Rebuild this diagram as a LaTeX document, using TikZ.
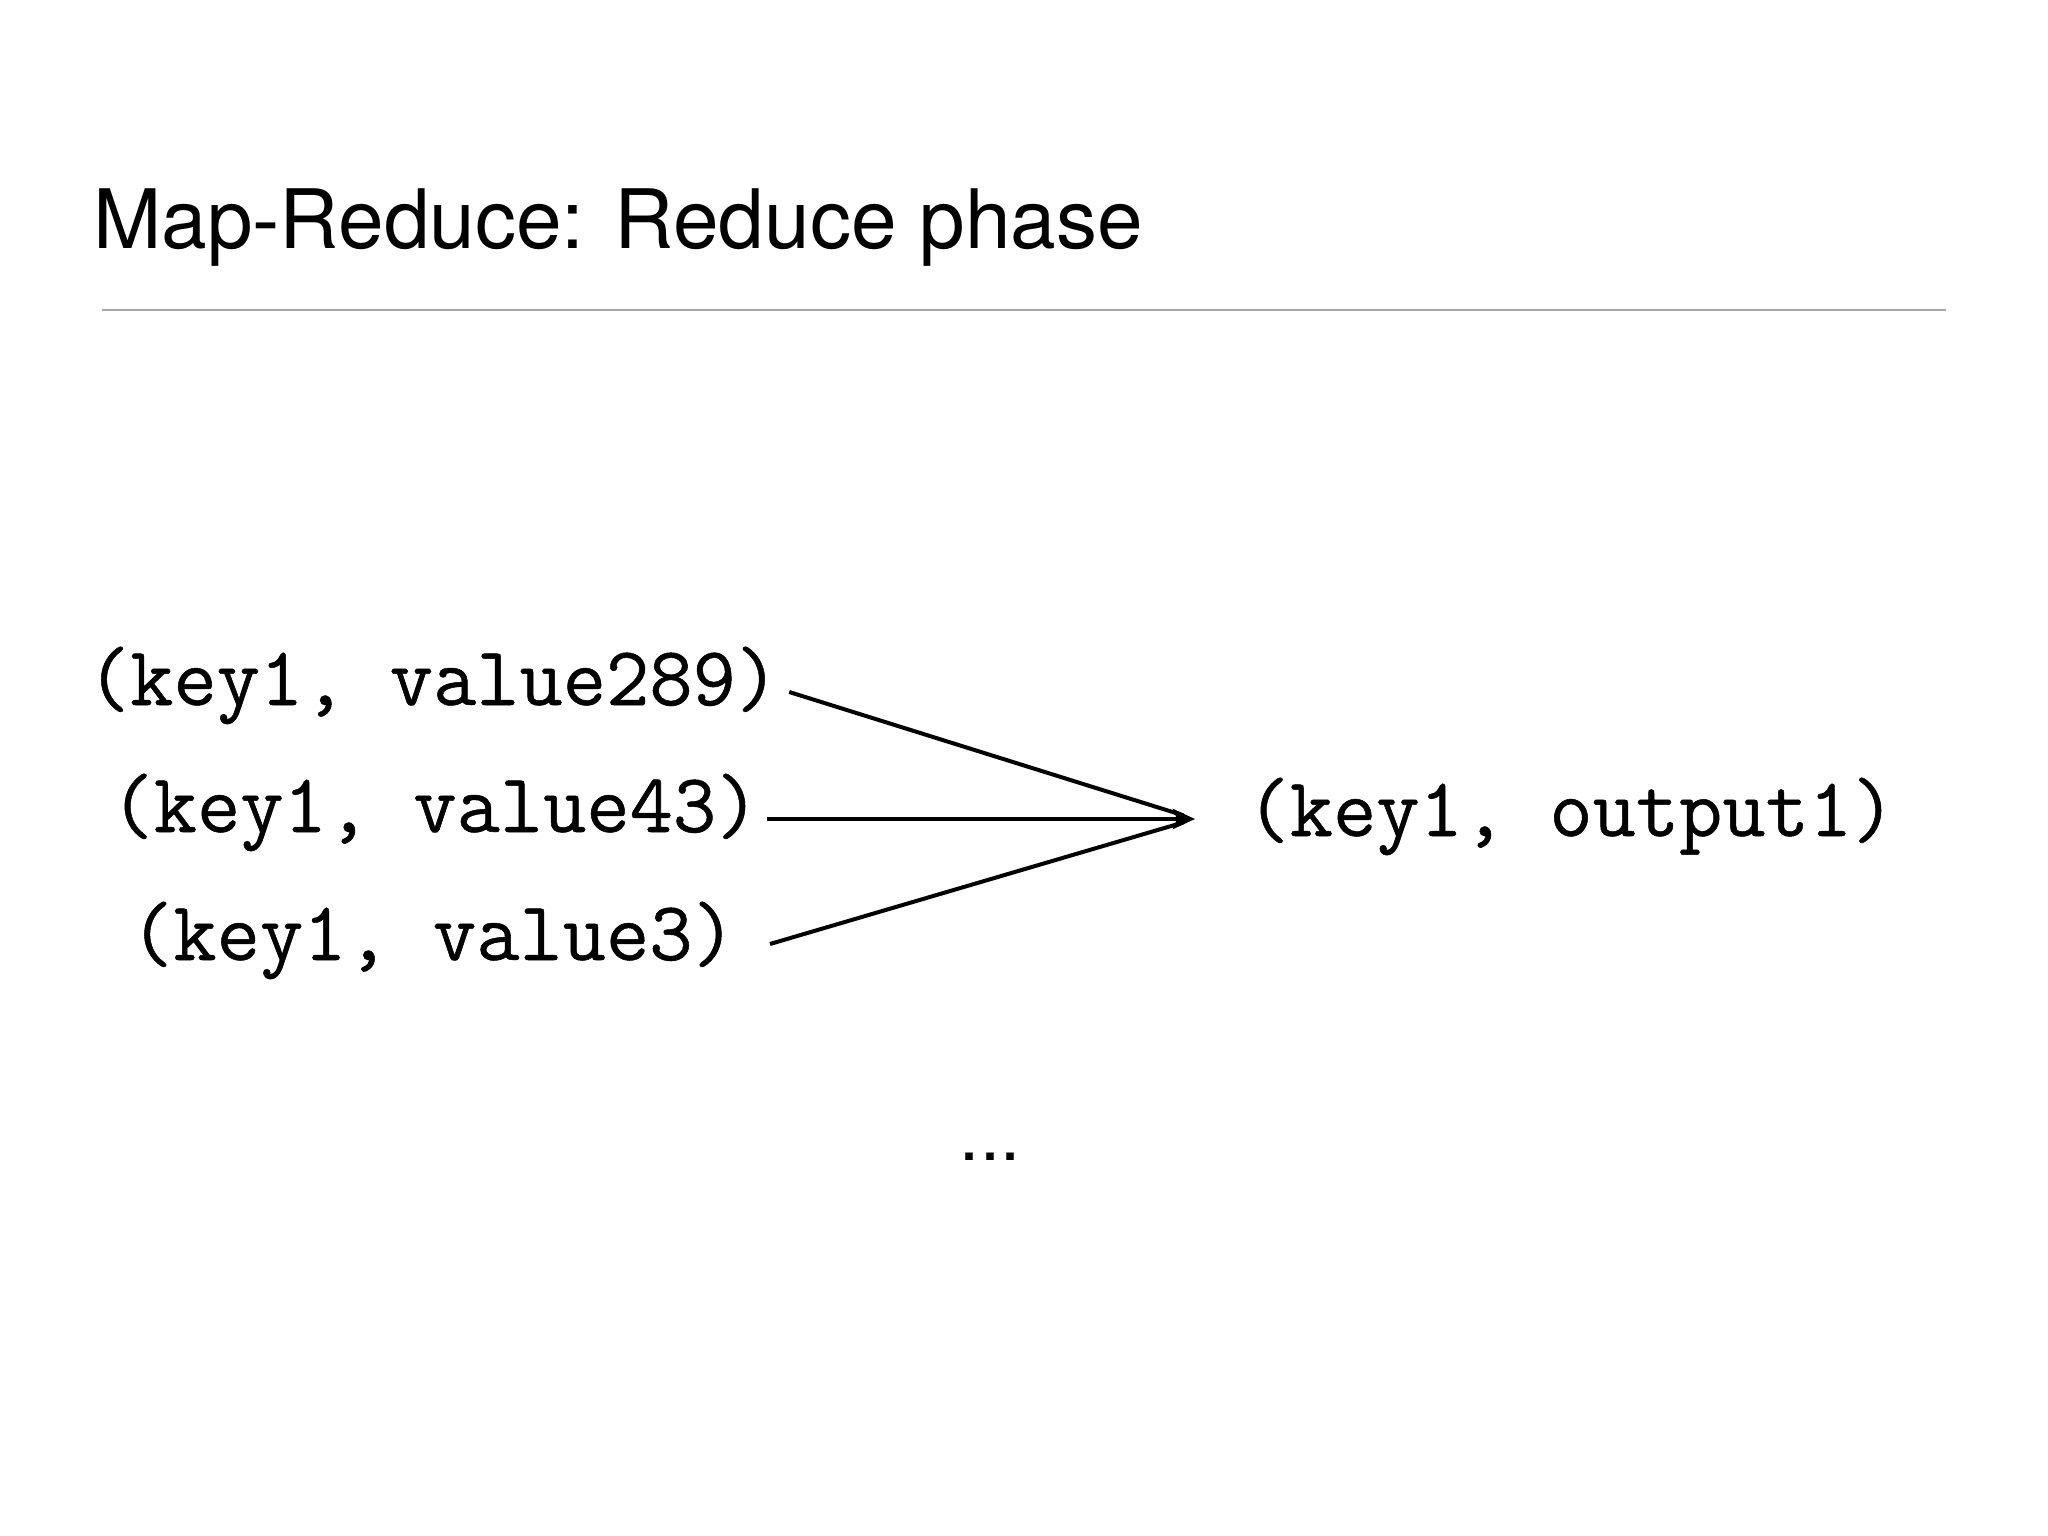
\documentclass[tikz,border=0pt]{standalone}
\usepackage{fontspec}
\setmainfont{TeX Gyre Heros}
\newfontfamily\pairfont[FakeBold=0.6]{Latin Modern Mono}
\usetikzlibrary{arrows.meta}
\definecolor{rulegray}{HTML}{A6A6A6}
\begin{document}
\begin{tikzpicture}[x=1pt,y=-1pt,
  titletext/.style={font=\fontsize{82}{98}\selectfont, anchor=base west, inner sep=0pt},
  pairtext/.style={font=\pairfont\fontsize{84}{98}\selectfont, anchor=base, inner sep=0pt},
  conn/.style={line width=4pt},
  tipconn/.style={conn, -{Stealth[length=22pt,width=20pt,inset=4pt]}}]
\useasboundingbox[fill=white] (0,0) rectangle (2048,1536);
\node[titletext] (title) at (93,248) {Map-Reduce: Reduce phase};
\coordinate (ruleL) at (102,310);
\coordinate (ruleR) at (1946,310);
\draw[rulegray, line width=2pt] (ruleL) -- (ruleR);
\node[pairtext] (src1) at (433,705) {(key1, value289)};
\node[pairtext] (src2) at (435,832) {(key1, value43)};
\node[pairtext] (src3) at (433,960) {(key1, value3)};
\node[pairtext] (out) at (1571,836) {(key1, output1)};
\coordinate (tip) at (1195,819);
\draw[conn, shorten >=12pt] ([xshift=10pt,yshift=13pt]src1.base east) -- (tip);
\draw[conn, shorten >=12pt] ([xshift=34pt,yshift=16pt]src3.base east) -- (tip);
\draw[tipconn] ([xshift=7pt,yshift=13pt]src2.base east) -- (tip);
\node[font=\fontsize{72}{86}\selectfont, anchor=base, inner sep=0pt] (dots) at (990,1160) {...};
\end{tikzpicture}
\end{document}
